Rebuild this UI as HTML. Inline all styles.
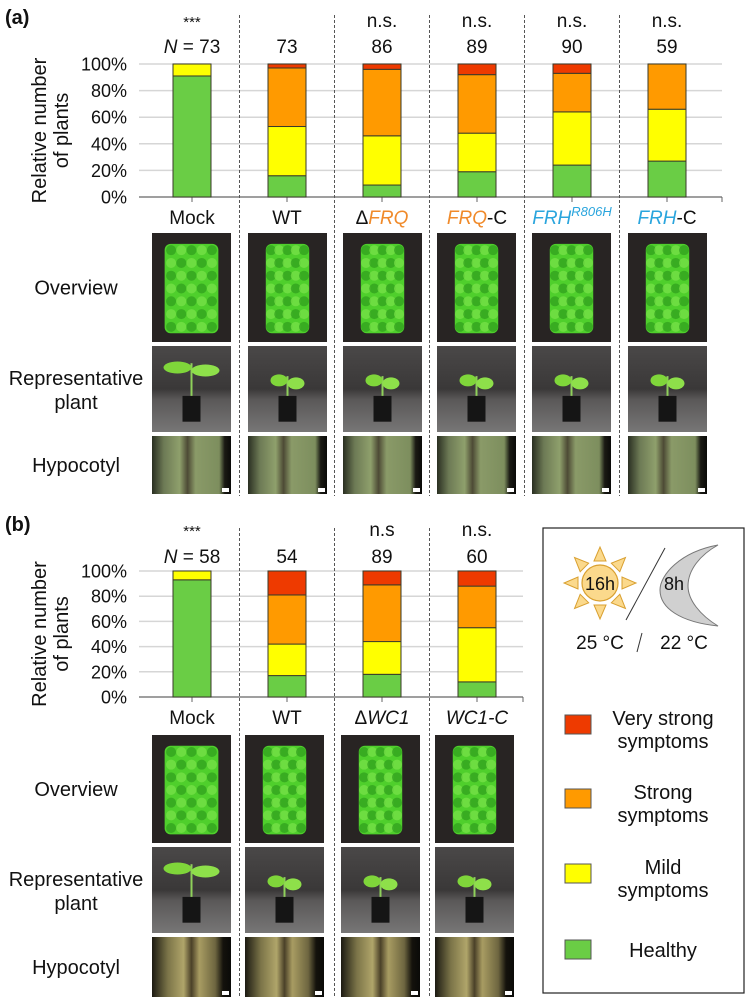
<!DOCTYPE html>
<html><head><meta charset="utf-8">
<style>
html,body{margin:0;padding:0;background:#fff;}
svg{display:block;font-family:"Liberation Sans",Arial,sans-serif;}
</style></head>
<body>
<svg id="fig" width="754" height="1007" viewBox="0 0 754 1007" xmlns="http://www.w3.org/2000/svg">
<defs>
  <linearGradient id="repBg" x1="0" y1="0" x2="0" y2="1">
    <stop offset="0" stop-color="#4a4848"/><stop offset="0.5" stop-color="#3a3838"/>
    <stop offset="0.62" stop-color="#5a5858"/><stop offset="1" stop-color="#777676"/>
  </linearGradient>
  <linearGradient id="hypA" x1="0" y1="0" x2="1" y2="0">
    <stop offset="0" stop-color="#2a2f22"/><stop offset="0.15" stop-color="#6d7a55"/>
    <stop offset="0.35" stop-color="#8fa06c"/><stop offset="0.45" stop-color="#4d4a35"/>
    <stop offset="0.55" stop-color="#8a9a68"/><stop offset="0.85" stop-color="#7d8e5e"/>
    <stop offset="0.92" stop-color="#1a1a14"/><stop offset="1" stop-color="#0a0a08"/>
  </linearGradient>
  <linearGradient id="hypB" x1="0" y1="0" x2="1" y2="0">
    <stop offset="0" stop-color="#1c1a12"/><stop offset="0.2" stop-color="#7b7448"/>
    <stop offset="0.4" stop-color="#b0a56a"/><stop offset="0.5" stop-color="#4a4028"/>
    <stop offset="0.6" stop-color="#a89c62"/><stop offset="0.8" stop-color="#6e6640"/>
    <stop offset="0.9" stop-color="#14120c"/><stop offset="1" stop-color="#0a0a08"/>
  </linearGradient>
</defs>
<g id="root"></g>
</svg>
<script>
// ---- Panel (a) data ----
const categoriesA = ["Mock","WT","dFRQ","FRQ-C","FRH-R806H","FRH-C"];
const nA = ["73","73","86","89","90","59"];
const sigA = ["***","","n.s.","n.s.","n.s.","n.s."];
const healthyA = [91,16,9,19,24,27];
const mildA = [9,37,37,29,40,39];
const strongA = [0,44,50,44,29,34];
const veryStrongA = [0,3,4,8,7,0];
// ---- Panel (b) data ----
const categoriesB = ["Mock","WT","dWC1","WC1-C"];
const nB = ["58","54","89","60"];
const sigB = ["***","","n.s","n.s."];
const healthyB = [93,17,18,12];
const mildB = [7,25,26,43];
const strongB = [0,39,45,33];
const veryStrongB = [0,19,11,12];
const yTicks = ["0%","20%","40%","60%","80%","100%"];

const NS="http://www.w3.org/2000/svg";
const root=document.getElementById('root');
const COLORS=["#6acd45","#ffff00","#ff9a00","#ee3a00"];
function mk(tag,attrs,parent){const e=document.createElementNS(NS,tag);for(const k in attrs)e.setAttribute(k,attrs[k]);(parent||root).appendChild(e);return e;}
function txt(x,y,s,size,parent,anchor){const t=mk('text',{x:x,y:y,'font-size':size,'text-anchor':anchor||'middle',fill:'#111'},parent);t.textContent=s;return t;}

const colX=i=>192+i*95;
function labelCat(g,x,y,key){
  const t=mk('text',{x:x,y:y,'font-size':19,'text-anchor':'middle',fill:'#111'},g);
  function sp(s,o){const e=document.createElementNS(NS,'tspan');e.textContent=s;for(const k in (o||{}))e.setAttribute(k,o[k]);t.appendChild(e);return e;}
  if(key==="dFRQ"){sp("\u0394");sp("FRQ",{fill:'#f08a2a','font-style':'italic'});}
  else if(key==="FRQ-C"){sp("FRQ",{fill:'#f08a2a','font-style':'italic'});sp("-C");}
  else if(key==="FRH-R806H"){sp("FRH",{fill:'#2aa5dd','font-style':'italic'});sp("R806H",{fill:'#2aa5dd','font-style':'italic','font-size':13,dy:-8});}
  else if(key==="FRH-C"){sp("FRH",{fill:'#2aa5dd','font-style':'italic'});sp("-C");}
  else if(key==="dWC1"){sp("\u0394");sp("WC1",{'font-style':'italic'});}
  else if(key==="WC1-C"){sp("WC1",{'font-style':'italic'});sp("-C",{'font-style':'italic'});}
  else sp(key);
  return t;
}

function panel(o){
  const g=mk('g',{});
  
  
  const y0=o.y0,y100=o.y100;
  const ys=v=>y0-(v/100)*(y0-y100);
  // panel letter
  const pl=mk('text',{x:5,y:o.letterY,'font-size':20,'font-weight':'bold',fill:'#111'},g);
  pl.textContent=o.letter;
  
  
  // y-axis title
  const yt=mk('text',{transform:`translate(46,${(y0+y100)/2}) rotate(-90)`,'font-size':20,'text-anchor':'middle',fill:'#111'},g);
  
  
  const t1=document.createElementNS(NS,'tspan');t1.setAttribute('x',0);t1.setAttribute('y',0);t1.textContent="Relative number";yt.appendChild(t1);
  const t2=document.createElementNS(NS,'tspan');t2.setAttribute('x',0);t2.setAttribute('y',22);t2.textContent="of plants";yt.appendChild(t2);
  // gridlines & ticks
  yTicks.forEach((lab,i)=>{
    const y=ys(i*20);
    if(i>0){const gl=mk('line',{x1:139,x2:o.axisEnd,y1:y,y2:y,stroke:'#d6d6d6','stroke-width':1.5},g);
      }
    const tl=txt(127,y+6.5,lab,18,g,'end');
    
  });
  const ax=mk('line',{x1:139,x2:o.axisEnd,y1:y0,y2:y0,stroke:'#666','stroke-width':1.2},g);
  
  mk('line',{x1:o.axisEnd,x2:o.axisEnd,y1:y0,y2:y0+5,stroke:'#666'},g);
  // dividers
  for(let i=0;i<o.cats.length-1;i++){
    const x=colX(i)+47.5;
    const d=mk('line',{x1:x,x2:x,y1:o.divTop,y2:o.divBot,stroke:'#555','stroke-width':1,'stroke-dasharray':'3,2'},g);
    
  }
  o.cats.forEach((c,i)=>{
    const cx=colX(i);
    mk('line',{x1:cx,x2:cx,y1:y0,y2:y0+5,stroke:'#666'},g);
    const segs=[o.h[i],o.m[i],o.s[i],o.v[i]];
    const nm=['healthy','mild','strong','very-strong'];
    let acc=0;
    segs.forEach((v,k)=>{
      if(v<=0)return;
      const r=mk('rect',{x:cx-19,y:ys(acc+v),width:38,height:ys(acc)-ys(acc+v),fill:COLORS[k],stroke:'#3a3a2a','stroke-width':1},g);
      
      
      acc+=v;
    });
    const nt=txt(cx,o.nY,(i===0?"":"")+o.n[i],19,g);
    if(i===0){nt.textContent="";const a=document.createElementNS(NS,'tspan');a.setAttribute('font-style','italic');a.textContent="N";nt.appendChild(a);const b=document.createElementNS(NS,'tspan');b.textContent=" = "+o.n[i];nt.appendChild(b);}
    
    if(o.sig[i]){const st=txt(cx,o.sigY,o.sig[i],o.sig[i]==="***"?15:19,g);
      }
    const cl=labelCat(g,cx,o.catY,c);
    
    // photos
    const px=o.photoX[i];
    photoOverview(g,px,o.ov[0],79,o.ov[1]-o.ov[0],i);
    photoPlant(g,px,o.rp[0],79,o.rp[1]-o.rp[0],i,i===0);
    photoHypo(g,px,o.hy[0],79,o.hy[1]-o.hy[0],o.hypGrad);
  });
  // row labels
  [["Overview",(o.ov[0]+o.ov[1])/2+7,'row-label-overview'],["Representative",(o.rp[0]+o.rp[1])/2-4,'row-label-representative'],["plant",(o.rp[0]+o.rp[1])/2+20,'row-label-plant'],["Hypocotyl",(o.hy[0]+o.hy[1])/2+7,'row-label-hypocotyl']].forEach(a=>{
    const t=txt(76,a[1],a[0],20,g);
  });
}

function photoOverview(g,x,y,w,h,i){
  const r=mk('rect',{x:x,y:y,width:w,height:h,fill:'#282423'},g);
  
  const bw=i===0?w*0.68:w*0.55;
  const bx=x+(w-bw)/2, by=y+h*0.1, bh=h*0.82;
  mk('rect',{x:bx,y:by,width:bw,height:bh,rx:6,fill:'#4fcf2c'},g);
  for(let k=0;k<5;k++)for(let j=0;j<7;j++){
    mk('circle',{cx:bx+bw*(0.12+k*0.19),cy:by+bh*(0.07+j*0.143),r:5,fill:(k+j)%2?'#7be24a':'#2f9c1c',opacity:0.7},g);
  }
}
function photoPlant(g,x,y,w,h,i,big){
  const r=mk('rect',{x:x,y:y,width:w,height:h,fill:'url(#repBg)'},g);
  
  const cx=x+w/2;
  mk('rect',{x:cx-9,y:y+h*0.58,width:18,height:h*0.3,fill:'#151515'},g);
  mk('line',{x1:cx,y1:y+h*0.58,x2:cx,y2:y+h*(big?0.2:0.35),stroke:'#8ed05a','stroke-width':2},g);
  const lw=big?28:17, ly=y+h*(big?0.25:0.4);
  mk('ellipse',{cx:cx-lw/2,cy:ly,rx:lw/2,ry:6,fill:'#7fd63a'},g);
  mk('ellipse',{cx:cx+lw/2,cy:ly+3,rx:lw/2,ry:6,fill:'#8ee04a'},g);
}
function photoHypo(g,x,y,w,h,grad){
  const r=mk('rect',{x:x,y:y,width:w,height:h,fill:'url(#'+grad+')'},g);
  
  mk('rect',{x:x+w-9,y:y+h-6,width:7,height:4,fill:'#fff'},g);
}

panel({name:'panel-a',letter:'(a)',letterY:24,y0:197,y100:64,axisEnd:722,cats:categoriesA,n:nA,sig:sigA,
  h:healthyA,m:mildA,s:strongA,v:veryStrongA,nY:53,sigY:27,catY:224,divTop:15,divBot:496,
  photoX:[152,248,343,437,532,628],ov:[233,342],rp:[346,432],hy:[436,494],hypGrad:'hypA'});
panel({name:'panel-b',letter:'(b)',letterY:531,y0:697,y100:571,axisEnd:523,cats:categoriesB,n:nB,sig:sigB,
  h:healthyB,m:mildB,s:strongB,v:veryStrongB,nY:563,sigY:536,catY:724,divTop:528,divBot:997,
  photoX:[152,245,341,435],ov:[735,843],rp:[847,933],hy:[937,997],hypGrad:'hypB'});

// ---- legend ----
const lg=mk('g',{});


mk('rect',{x:543,y:528,width:201,height:465,fill:'#fff',stroke:'#222','stroke-width':1.2},lg);
// sun
const sun=mk('g',{},lg);


for(let k=0;k<8;k++){
  const a=k*Math.PI/4, c=Math.cos(a), s=Math.sin(a);
  const px=-s, py=c;
  const r1=22,r2=36,hw=6;
  mk('polygon',{points:`${600+c*r1+px*hw},${583+s*r1+py*hw} ${600+c*r1-px*hw},${583+s*r1-py*hw} ${600+c*r2},${583+s*r2}`,fill:'#fbd98c',stroke:'#d9a030','stroke-width':1},sun);
}
mk('circle',{cx:600,cy:583,r:18,fill:'#fbd98c',stroke:'#d9a030','stroke-width':1.2},sun);
txt(600,590,"16h",18,sun);
mk('line',{x1:665,y1:548,x2:626,y2:620,stroke:'#333','stroke-width':1},lg);
const moon=mk('path',{d:'M718,545 C680,552 660,575 660,590 C660,608 680,622 718,626 C700,615 688,600 688,586 C688,570 700,555 718,545 Z',fill:'#d0d0d0',stroke:'#777','stroke-width':1},lg);


txt(674,590,"8h",18,lg);
txt(600,649,"25 \u00B0C",19,lg);
mk('line',{x1:642,y1:633,x2:637,y2:652,stroke:'#333','stroke-width':1},lg);
txt(684,649,"22 \u00B0C",19,lg);
const legItems=[["Very strong","symptoms",COLORS[3],715],["Strong","symptoms",COLORS[2],789],["Mild","symptoms",COLORS[1],864],["Healthy","",COLORS[0],940]];
legItems.forEach(it=>{
  const e=mk('g',{},lg);
  
  
  mk('rect',{x:565,y:it[3],width:26,height:19,fill:it[2],stroke:'#555','stroke-width':1},e);
  if(it[1]){txt(663,it[3]+10,it[0],20,e);txt(663,it[3]+33,it[1],20,e);}
  else txt(663,it[3]+17,it[0],20,e);
});
</script>
</body></html>
